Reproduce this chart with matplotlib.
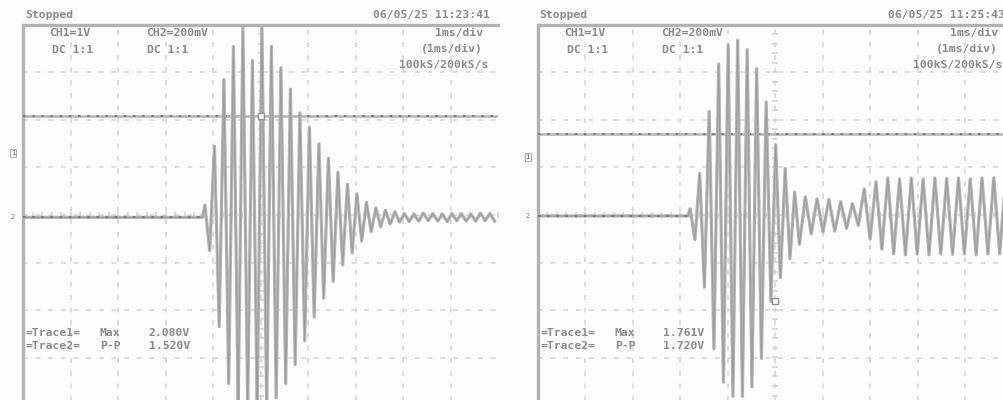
import matplotlib
matplotlib.use("Agg")
import matplotlib.pyplot as plt
import numpy as np

W, H = 1004, 400

# CH2 peaks in divisions (+ is up), one value per half cycle
left_burst = [0.26, -0.7, 1.5, -2.3, 2.9, -3.5, 3.6, -4.0, 4.0, -4.0,
              3.3, -4.0, 4.0, -4.0, 3.6, -3.8, 3.15, -3.5, 2.7, -3.1,
              2.2, -2.6, 1.9, -2.1, 1.55, -1.7, 1.25, -1.35, 0.95, -1.0,
              0.7, -0.75, 0.5, -0.5, 0.32, -0.3, 0.2, -0.2, 0.15, -0.14,
              0.12, -0.1]
left_tail = [0.08, -0.09, 0.07, -0.08, 0.09, -0.07, 0.08, -0.08, 0.07,
             -0.09, 0.08, -0.07, 0.08, -0.08, 0.07, -0.08, 0.09, -0.07,
             0.08, -0.08]
right_burst = [0.15, -0.5, 0.9, -1.5, 2.2, -2.8, 3.2, -3.5, 3.6, -3.8,
               3.7, -3.8, 3.5, -3.6, 3.1, -3.0, 2.4, -1.8, 1.5, -1.3,
               1.0, -0.9, 0.5, -0.6]
right_tail = [0.4, -0.38, 0.36, -0.34, 0.35, -0.32, 0.3, -0.26, 0.26, -0.2,
              0.57, -0.49, 0.72, -0.7, 0.8, -0.8, 0.78, -0.82, 0.8, -0.8,
              0.78, -0.82, 0.8, -0.8, 0.79, -0.81, 0.8, -0.8, 0.78, -0.82,
              0.8, -0.8, 0.8, -0.8, 0.79]

burst_start = [3.83, 3.21]     # div where the burst begins
burst_step = 0.1               # div between peaks in the burst
tail_step = [0.1, 0.124]       # div between peaks after it

ch1_level = [2.08, 1.70]
ch2_level = [-0.05, -0.02]
ch1_gnd = [1.30, 1.23]

header_left = ["Stopped", "Stopped"]
header_date = ["06/05/25 11:23:41", "06/05/25 11:25:43"]
ch_labels = [("CH1=1V", "CH2=200mV"), ("CH1=1V", "CH2=200mV")]
coupling = ("DC 1:1", "DC 1:1")
timebase = ("1ms/div", "(1ms/div)", "100kS/200kS/s")
meas_names = [("=Trace1=", "Max"), ("=Trace2=", "P-P")]
meas_values = [("2.080V", "1.520V"), ("1.761V", "1.720V")]

frame_c = "#b2b2b2"
grid_c = "#dcdcdc"
trace_c = "#b4b4b4"
core_c = "#8c8c8c"
dark_c = "#6e6e6e"
text_c = "#8a8a8a"
mono = "DejaVu Sans Mono"

fig = plt.figure(figsize=(W / 100, H / 100), dpi=100)
fig.patch.set_facecolor("#fdfdfd")

panel_x = [23.0, 537.7]
top_y, div_px = 25.0, 47.5


def fx(x):
    return x / W


def fy(y):
    return 1 - y / H


for i, x0 in enumerate(panel_x):
    ax = fig.add_axes([fx(x0), fy(top_y + 8 * div_px), 10 * div_px / W, 8 * div_px / H])
    ax.set_xlim(0, 10)
    ax.set_ylim(-4, 4)
    ax.set_facecolor("#fdfdfd")
    for s in ["bottom", "right"]:
        ax.spines[s].set_visible(False)
    for s in ["left", "top"]:
        ax.spines[s].set_color(frame_c)
        ax.spines[s].set_linewidth(2.4)
    ax.set_xticks([])
    ax.set_yticks([])

    # graticule
    for gx in range(1, 10):
        ax.axvline(gx, color=grid_c, lw=1.4, dashes=(2.5, 4), zorder=1)
    for gy in range(-3, 4):
        ax.axhline(gy, color=grid_c, lw=1.4, dashes=(2.5, 4), zorder=1)
    minor = np.arange(-4, 4.01, 0.2)
    ax.plot(np.full_like(minor, 5), minor, ls="none", marker="_", ms=4,
            color="#d4d4d4", mew=1.2, zorder=1)
    minor_x = np.arange(0, 10.01, 0.2)
    ax.plot(minor_x, np.zeros_like(minor_x), ls="none", marker="|", ms=4,
            color="#d4d4d4", mew=1.2, zorder=1)

    # CH1 flat trace
    ax.axhline(ch1_level[i], color=trace_c, lw=1.8, zorder=3)
    ax.axhline(ch1_level[i], color=dark_c, lw=1.2, dashes=(1.5, 4), zorder=3)

    # CH2: flat lead-in, burst, then the tail
    burst = np.array(left_burst if i == 0 else right_burst)
    tail = np.array(left_tail if i == 0 else right_tail)
    start = burst_start[i]
    tb = start + burst_step * np.arange(len(burst))
    tt = tb[-1] + tail_step[i] * np.arange(1, len(tail) + 1)
    tx = np.concatenate([[0, start - 0.05], tb, tt])
    vy = np.concatenate([[0, 0], burst, tail]) + ch2_level[i]
    ax.plot(tx, vy, color=trace_c, lw=2.3, zorder=4)
    ax.plot(tx, vy, color=core_c, lw=0.6, alpha=0.7, zorder=4)
    ax.plot([0, start], [ch2_level[i]] * 2, color=dark_c, lw=1.2,
            dashes=(1.5, 4), zorder=4)

    # trigger marker
    mark_y = ch1_level[i] if i == 0 else -1.8
    ax.plot(5, mark_y, marker="s", ms=4, mfc="white", mec="#909090",
            mew=1, zorder=6)

    # ground markers outside the frame
    ox = x0 - 23
    fig.text(fx(ox + 13), fy(top_y + (4 - ch1_gnd[i]) * div_px), "1",
             fontsize=5, color="#555555", ha="center", va="center",
             family=mono, bbox=dict(boxstyle="square,pad=0.15", fc="white",
                                    ec="#b0b0b0", lw=0.8))
    fig.text(fx(ox + 13), fy(top_y + (4 - ch2_level[i]) * div_px), "2",
             fontsize=5, color="#777777", ha="center", va="center", family=mono)

    # header and readouts
    kw = dict(fontsize=8.2, color=text_c, family=mono, fontweight="bold",
              va="center")
    fig.text(fx(ox + 25), fy(15), header_left[i], ha="left", **kw)
    fig.text(fx(ox + 490), fy(15), header_date[i], ha="right", **kw)
    fig.text(fx(ox + 70), fy(33), ch_labels[i][0], ha="center", **kw)
    fig.text(fx(ox + 177), fy(33), ch_labels[i][1], ha="center", **kw)
    fig.text(fx(ox + 73), fy(50), coupling[0], ha="center", **kw)
    fig.text(fx(ox + 168), fy(50), coupling[1], ha="center", **kw)
    fig.text(fx(ox + 483), fy(33), timebase[0], ha="right", **kw)
    fig.text(fx(ox + 483), fy(49), timebase[1], ha="right", **kw)
    fig.text(fx(ox + 488), fy(65), timebase[2], ha="right", **kw)
    for r, yy in enumerate([333, 346]):
        fig.text(fx(ox + 26), fy(yy), meas_names[r][0], ha="left", **kw)
        fig.text(fx(ox + 100), fy(yy), meas_names[r][1], ha="left", **kw)
        fig.text(fx(ox + 190), fy(yy), meas_values[i][r], ha="right", **kw)

fig.savefig("out.png", dpi=100, facecolor=fig.get_facecolor())
